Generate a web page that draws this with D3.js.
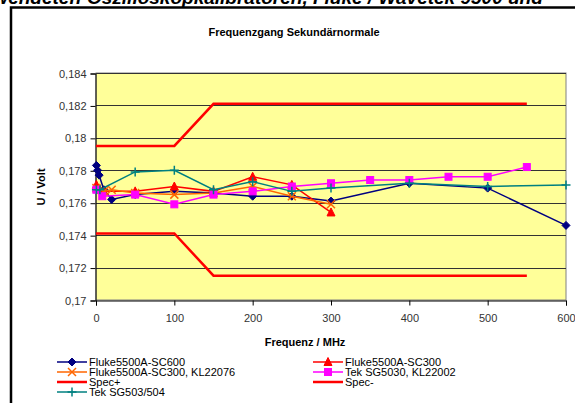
<!DOCTYPE html>
<html>
<head>
<meta charset="utf-8">
<script src="https://cdn.jsdelivr.net/npm/d3@7"></script>
<style>
  body { margin: 0; background: #fff; }
  svg { display: block; font-family: "Liberation Sans", Arial, sans-serif; }
</style>
</head>
<body>
<script>
// series data (frequency in MHz, voltage in V)
var sc600 = [[0.5, 0.1783], [2, 0.1780], [4, 0.1777], [10, 0.1768], [20, 0.1762], [50, 0.1765],
  [100, 0.1767], [150, 0.1766], [200, 0.1764], [250, 0.1764], [300, 0.1761], [400, 0.1772],
  [500, 0.1769], [600, 0.1746]];
var sc300 = [[0.5, 0.1771], [5, 0.1768], [10, 0.1767], [50, 0.1767], [100, 0.1770], [150, 0.1767],
  [200, 0.1776], [250, 0.1771], [300, 0.1754]];
var sc300kl = [[0.5, 0.1769], [10, 0.1767], [20, 0.1768], [50, 0.1766], [100, 0.1765], [150, 0.1766],
  [200, 0.1770], [250, 0.1764], [300, 0.1759]];
var sg5030 = [[0.5, 0.1768], [8, 0.1764], [50, 0.1765], [100, 0.1759], [150, 0.1765], [200, 0.1767],
  [250, 0.1770], [300, 0.1772], [350, 0.1774], [400, 0.1774], [450, 0.1776], [500, 0.1776], [550, 0.1782]];
var specPlus = [[0, 0.1795], [100, 0.1795], [150, 0.1821], [550, 0.1821]];
var specMinus = [[0, 0.1741], [100, 0.1741], [150, 0.1715], [550, 0.1715]];
var sg503 = [[0.5, 0.1768], [5, 0.1768], [50, 0.1779], [100, 0.1780], [150, 0.1768], [200, 0.1773],
  [250, 0.1767], [300, 0.1769], [400, 0.1772], [500, 0.1770], [600, 0.1771]];

var xTicks = [0, 100, 200, 300, 400, 500, 600];
var yTicks = [0.17, 0.172, 0.174, 0.176, 0.178, 0.18, 0.182, 0.184];

var series = [
  { name: "Fluke5500A-SC600", data: sc600, color: "#000080", marker: "diamond", w: 1.5 },
  { name: "Fluke5500A-SC300", data: sc300, color: "#ff0000", marker: "triangle", w: 1.5 },
  { name: "Fluke5500A-SC300, KL22076", data: sc300kl, color: "#ff6600", marker: "x", w: 1.5 },
  { name: "Tek SG5030, KL22002", data: sg5030, color: "#ff00ff", marker: "square", w: 1.5 },
  { name: "Spec+", data: specPlus, color: "#ff0000", marker: null, w: 2.5 },
  { name: "Spec-", data: specMinus, color: "#ff0000", marker: null, w: 2.5 },
  { name: "Tek SG503/504", data: sg503, color: "#008080", marker: "plus", w: 1.5 }
];

var width = 575, height = 403;
var svg = d3.select("body").append("svg")
    .attr("width", width)
    .attr("height", height);

// cut-off page text above the chart
var headText = svg.append("text")
    .attr("y", 4)
    .style("font-size", "19px").style("font-weight", "bold").style("font-style", "italic");
headText.append("tspan").attr("x", 81).attr("text-anchor", "end").text("verwendeten");
headText.append("tspan").attr("x", 87).attr("text-anchor", "start")
    .text("Oszilloskopkalibratoren, Fluke / Wavetek 9500 und");

// chart frame
svg.append("rect")
    .attr("x", 11).attr("y", 7.5)
    .attr("width", 580).attr("height", 410)
    .attr("fill", "#fff").attr("stroke", "#000").attr("stroke-width", 2.5);

svg.append("text")
    .attr("x", 294).attr("y", 36)
    .attr("text-anchor", "middle")
    .style("font-size", "11px").style("font-weight", "bold")
    .text("Frequenzgang Sekundärnormale");

var x = d3.scaleLinear().domain([0, 600]).range([96, 566]);
var y = d3.scaleLinear().domain([0.17, 0.184]).range([300, 73]);

svg.append("rect")
    .attr("x", x(0)).attr("y", y(0.184))
    .attr("width", x(600) - x(0)).attr("height", y(0.17) - y(0.184))
    .attr("fill", "#ffff99").attr("stroke", "#808080").attr("stroke-width", 1);

// gridlines
svg.append("g")
  .selectAll("line")
  .data(yTicks.slice(1))
  .join("line")
    .attr("x1", x(0)).attr("x2", x(600))
    .attr("y1", d => Math.round(y(d)) + 0.5).attr("y2", d => Math.round(y(d)) + 0.5)
    .attr("stroke", "#333").attr("stroke-width", 1);

var fmt = d => String(+d.toFixed(3)).replace(".", ",");

var yAxis = svg.append("g")
    .attr("transform", "translate(" + (x(0) - 0.5) + ",0.5)")
    .call(d3.axisLeft(y).tickValues(yTicks).tickFormat(fmt).tickSize(5).tickPadding(4));
var xAxis = svg.append("g")
    .attr("transform", "translate(0," + (y(0.17) + 0.5) + ")")
    .call(d3.axisBottom(x).tickValues(xTicks).tickSize(5).tickPadding(9));
[yAxis, xAxis].forEach(function (g) {
  g.selectAll("path, line").attr("stroke", "#000");
  g.selectAll("text").attr("fill", "#333")
    .style("font-size", "11px").style("font-family", "Liberation Sans, Arial, sans-serif");
});

svg.append("text")
    .attr("transform", "translate(45," + 187 + ") rotate(-90)")
    .attr("text-anchor", "middle")
    .style("font-size", "11px").style("font-weight", "bold")
    .text("U / Volt");
svg.append("text")
    .attr("x", 305).attr("y", 346)
    .attr("text-anchor", "middle")
    .style("font-size", "11px").style("font-weight", "bold")
    .text("Frequenz / MHz");

var line = d3.line().x(d => x(d[0])).y(d => y(d[1]));

function drawMarker(g, type, color) {
  if (type === "diamond") {
    g.append("path").attr("d", "M0,-4L4,0L0,4L-4,0Z").attr("fill", color).attr("stroke", color);
  } else if (type === "triangle") {
    g.append("path").attr("d", "M0,-4.5L4,3.5L-4,3.5Z").attr("fill", color).attr("stroke", color);
  } else if (type === "square") {
    g.append("rect").attr("x", -3.5).attr("y", -3.5).attr("width", 7).attr("height", 7)
      .attr("fill", color).attr("stroke", color);
  } else if (type === "x") {
    g.append("path").attr("d", "M-4,-4L4,4M-4,4L4,-4").attr("stroke", color).attr("stroke-width", 1.5);
  } else if (type === "plus") {
    g.append("path").attr("d", "M-4.5,0L4.5,0M0,-4.5L0,4.5").attr("stroke", color).attr("stroke-width", 1.5);
  }
}

var plot = svg.append("g");
series.forEach(function (s) {
  plot.append("path")
      .datum(s.data)
      .attr("d", line)
      .attr("fill", "none")
      .attr("stroke", s.color)
      .attr("stroke-width", s.w);
  if (s.marker) {
    s.data.forEach(function (d) {
      drawMarker(plot.append("g").attr("transform", "translate(" + x(d[0]) + "," + y(d[1]) + ")"), s.marker, s.color);
    });
  }
});

// legend
var legend = svg.append("g");
series.forEach(function (s, i) {
  var col = (i < 6) ? i % 2 : 0;
  var row = (i < 6) ? Math.floor(i / 2) : 3;
  var lx = col === 0 ? 57 : 313;
  var ly = 362 + row * 10;
  var g = legend.append("g").attr("transform", "translate(" + lx + "," + ly + ")");
  g.append("line").attr("x1", 0).attr("x2", 30).attr("y1", 0).attr("y2", 0)
    .attr("stroke", s.color).attr("stroke-width", s.w);
  if (s.marker) drawMarker(g.append("g").attr("transform", "translate(15,0)"), s.marker, s.color);
  g.append("text").attr("x", 32).attr("y", 4)
    .style("font-size", "11px").attr("fill", "#000")
    .text(s.name);
});
</script>
</body>
</html>
